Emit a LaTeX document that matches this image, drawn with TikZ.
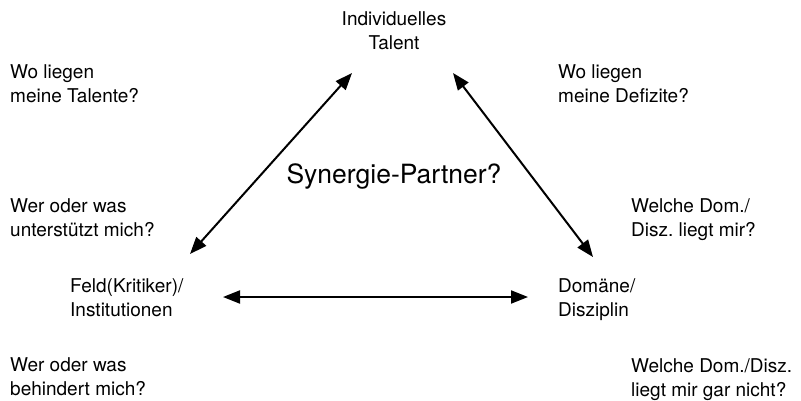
\documentclass[tikz,border=0pt]{standalone}
\usepackage{fontspec}
\setmainfont{TeX Gyre Heros}
\usepackage{tikz}
\usetikzlibrary{arrows.meta,calc,positioning}
\frenchspacing

\tikzset{
  frage/.style={anchor=base west,align=left,inner sep=0pt,font=\fontsize{19}{24}\selectfont},
  ecke/.style={anchor=base west,align=left,inner sep=0pt,font=\fontsize{19}{24}\selectfont},
  pfeil/.style={line width=2pt,{Triangle[length=17pt,width=13pt]}-{Triangle[length=17pt,width=13pt]}}
}

\begin{document}
\begin{tikzpicture}[x=1pt,y=-1pt]
\useasboundingbox (0,0) rectangle (801,400);
% Pfeilenden
\coordinate (LO) at (352,73);
\coordinate (LU) at (190,254);
\coordinate (RO) at (453,73);
\coordinate (RU) at (593,257);
\coordinate (HL) at (223,297);
\coordinate (HR) at (528,297);
\draw[pfeil] (LO) -- (LU);
\draw[pfeil] (RO) -- (RU);
\draw[pfeil] (HL) -- (HR);
% Ecken (Grundlinie der letzten Zeile)
\node[anchor=base,align=center,inner sep=0pt,font=\fontsize{19}{24}\selectfont] (talent) at (394,49) {Individuelles\\Talent};
\node[ecke] (feld) at (70,316) {Feld(Kritiker)/\\Institutionen};
\node[ecke] (domaene) at (558,316) {Domäne/\\Disziplin};
\node[anchor=base,inner sep=0pt,font=\fontsize{26.5}{30}\selectfont] (mitte) at (394,183) {Synergie-Partner?};
% Fragen
\node[frage] (f1) at (10,102) {Wo liegen\\meine Talente?};
\node[frage] (f2) at (558,102) {Wo liegen\\meine Defizite?};
\node[frage] (f3) at (10,236) {Wer oder was\\unterstützt mich?};
\node[frage] (f4) at (631,236) {Welche Dom./\\Disz. liegt mir?};
\node[frage] (f5) at (10,395) {Wer oder was\\behindert mich?};
\node[frage] (f6) at (631,396) {Welche Dom./Disz.\\liegt mir gar nicht?};
\end{tikzpicture}
\end{document}
